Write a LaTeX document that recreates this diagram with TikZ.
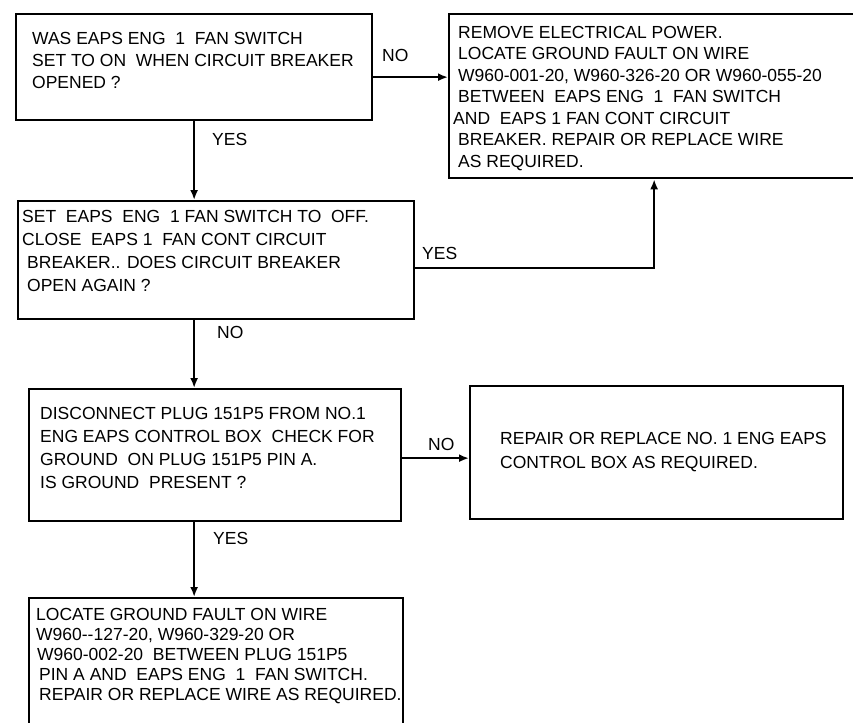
\documentclass[tikz,border=0pt]{standalone}
\usepackage{fontspec}
\setmainfont{Liberation Sans}
\usetikzlibrary{arrows.meta}

\tikzset{
  box/.style={draw, line width=2.3pt, anchor=north west, inner sep=0pt},
  txt/.style={anchor=north west, align=left, inner sep=0pt, font=\fontsize{17.5}{#1}\selectfont},
  lbl/.style={anchor=base west, inner sep=0pt, font=\fontsize{17.5}{20}\selectfont},
  arr/.style={line width=2.3pt, -{Latex[length=10pt,width=8pt]}}
}

\begin{document}
\begin{tikzpicture}[x=1pt, y=1pt]
\useasboundingbox (0,0) rectangle (853,-722);
% boxes
\node[box, minimum width=356pt, minimum height=106pt] (qa) at (15,-13) {};
\node[box, minimum width=420pt, minimum height=164pt] (qb) at (448,-13) {};
\node[box, minimum width=396pt, minimum height=118pt] (qc) at (17,-200) {};
\node[box, minimum width=372pt, minimum height=132pt] (qd) at (28,-388) {};
\node[box, minimum width=373pt, minimum height=133pt] (qe) at (469,-385) {};
\node[box, minimum width=374pt, minimum height=140pt] (qf) at (28,-597) {};
% texts
\node[txt=22] (ta) at (32,-32) {WAS EAPS ENG \ 1 \ FAN SWITCH\\SET TO ON \ WHEN CIRCUIT BREAKER\\OPENED ?};
\node[txt=21.5] (tb) at (453,-26) {\hspace{5pt}REMOVE ELECTRICAL POWER.\\\hspace{5pt}LOCATE GROUND FAULT ON WIRE\\\hspace{5pt}W960-001-20, W960-326-20 OR W960-055-20\\\hspace{5pt}BETWEEN \ EAPS ENG \ 1 \ FAN SWITCH\\AND \ EAPS 1 FAN CONT CIRCUIT\\\hspace{5pt}BREAKER. REPAIR OR REPLACE WIRE\\\hspace{5pt}AS REQUIRED.};
\node[txt=23] (tc) at (22,-210) {SET \ EAPS \ ENG \ 1 FAN SWITCH TO \ OFF.\\CLOSE \ EAPS 1 \ FAN CONT CIRCUIT\\\hspace{5pt}BREAKER.. DOES CIRCUIT BREAKER\\\hspace{5pt}OPEN AGAIN ?};
\node[txt=23] (td) at (40,-407) {DISCONNECT PLUG 151P5 FROM NO.1\\ENG EAPS CONTROL BOX \ CHECK FOR\\GROUND \ ON PLUG 151P5 PIN A.\\IS GROUND \ PRESENT ?};
\node[txt=24] (te) at (500,-432) {REPAIR OR REPLACE NO. 1 ENG EAPS\\CONTROL BOX AS REQUIRED.};
\node[txt=20] (tf) at (36,-608) {LOCATE GROUND FAULT ON WIRE\\W960-{}-127-20, W960-329-20 OR\\\hspace{1pt}W960-002-20 \ BETWEEN PLUG 151P5\\\hspace{3pt}PIN A AND \ EAPS ENG \ 1 \ FAN SWITCH.\\\hspace{3pt}REPAIR OR REPLACE WIRE AS REQUIRED.};
% connectors
\coordinate (ab) at ([yshift=-10pt]qa.east);
\draw[arr] (ab) -- (ab -| qb.west);
\draw[arr] (qa.south) -- (qa.south |- qc.north);
\coordinate (cb) at ([yshift=-8pt]qc.east);
\draw[arr] (cb) -| ([xshift=-5pt]qb.south);
\draw[arr] (qc.south -| qa.south) -- (qd.north -| qa.south);
\coordinate (de) at ([yshift=-3pt]qd.east);
\draw[arr] (de) -- (de -| qe.west);
\draw[arr] (qd.south -| qa.south) -- (qf.north -| qa.south);
% labels
\node[lbl] (la) at (382,-62) {NO};
\node[lbl] (lb) at (212,-146) {YES};
\node[lbl] (lc) at (422,-259) {YES};
\node[lbl] (ld) at (217,-338) {NO};
\node[lbl] (le) at (428,-450) {NO};
\node[lbl] (lf) at (213,-544) {YES};
\end{tikzpicture}
\end{document}
